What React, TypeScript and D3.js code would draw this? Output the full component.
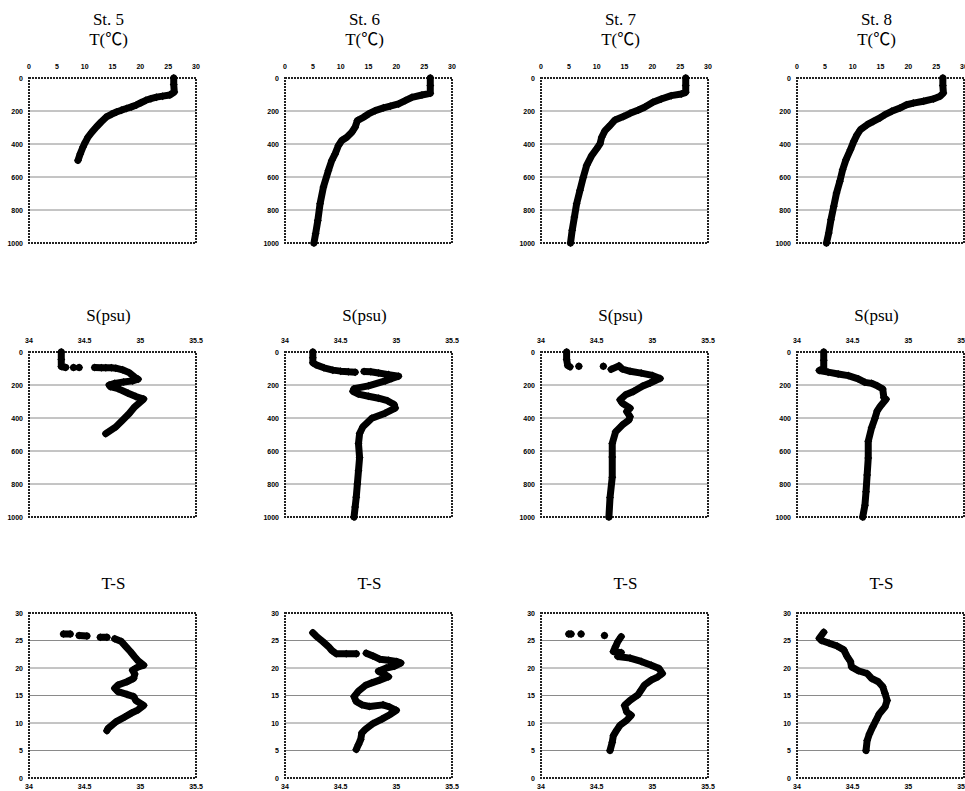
import React from 'react';
import * as d3 from 'd3';

type Pt = [number, number] | null;
const _ = null;

const stations = ['St. 5', 'St. 6', 'St. 7', 'St. 8'];
const tempTicks = [0, 5, 10, 15, 20, 25, 30];
const salTicks = [34, 34.5, 35, 35.5];
const depthTicks = [0, 200, 400, 600, 800, 1000];

// [temperature, depth]
const st5Temp: Pt[] = [[26.0,0],[26.0,40],[26.1,85],[25.3,103],[24.0,110],[22.9,116],[21.9,125],[21.0,135],[20.1,150],[19.3,163],[18.4,175],[17.5,185],[16.6,195],[15.7,206],[14.8,220],[13.9,236],[13.0,265],[12.1,297],[11.3,328],[10.6,358],[10.1,390],[9.7,418],[9.2,460],[8.8,499]];
const st6Temp: Pt[] = [[26.1,0],[26.1,45],[26.1,93],[24.6,103],[22.8,117],[21.6,137],[20.4,157],[18.9,171],[17.7,181],[16.2,198],[15.0,218],[14.1,238],[13.0,258],[12.6,298],[12.0,329],[11.1,359],[10.2,379],[9.6,409],[9.0,460],[8.4,500],[7.8,560],[6.9,661],[6.3,762],[5.9,863],[5.5,944],[5.2,1000]];
const st7Temp: Pt[] = [[26.0,0],[26.0,45],[26.0,87],[25.2,97],[23.4,107],[21.6,127],[20.1,147],[18.6,177],[17.5,194],[16.0,214],[14.8,234],[13.3,254],[12.4,288],[11.5,319],[10.9,359],[10.6,399],[10.0,429],[9.1,470],[8.2,530],[7.6,601],[7.0,681],[6.4,762],[6.0,843],[5.6,923],[5.3,1000]];
const st8Temp: Pt[] = [[26.2,0],[26.2,45],[26.3,91],[25.7,111],[24.5,127],[22.7,141],[20.9,152],[19.7,162],[18.5,182],[17.0,202],[15.8,222],[14.9,242],[13.7,263],[12.6,283],[11.4,313],[10.8,343],[10.2,384],[9.6,434],[8.8,495],[8.2,556],[7.7,626],[7.1,697],[6.6,778],[6.1,859],[5.7,939],[5.3,1000]];

// [salinity, depth]
const st5Sal: Pt[] = [[34.29,0],[34.29,45],[34.29,88],[34.33,94],_,[34.40,94],_,[34.45,94],_,[34.59,94],[34.65,95],[34.69,95],[34.74,96],[34.78,98],[34.84,108],[34.90,125],[34.95,153],[34.98,165],[34.93,175],[34.85,182],[34.77,190],[34.72,200],[34.73,210],[34.80,222],[34.89,250],[34.96,270],[35.03,285],[34.95,332],[34.90,373],[34.84,413],[34.78,454],[34.69,495]];
const st6Sal: Pt[] = [[34.25,0],[34.25,35],[34.25,65],[34.28,78],[34.35,96],[34.43,110],[34.50,116],[34.57,120],[34.63,122],_,[34.71,118],[34.77,120],[34.84,127],[34.93,137],[35.02,147],[34.96,160],[34.90,175],[34.75,205],[34.62,222],[34.61,238],[34.66,255],[34.75,268],[34.84,280],[34.92,295],[34.98,318],[34.99,340],[34.90,371],[34.78,402],[34.70,453],[34.67,494],[34.66,555],[34.67,640],[34.66,720],[34.65,800],[34.64,880],[34.63,940],[34.62,1000]];
const st7Sal: Pt[] = [[34.23,0],[34.23,45],[34.24,82],[34.26,90],_,[34.34,86],_,[34.56,86],_,[34.63,105],[34.70,84],[34.73,103],[34.80,117],[34.90,128],[35.0,142],[35.07,160],[34.98,188],[34.91,208],[34.83,239],[34.76,259],[34.71,290],[34.73,310],[34.80,341],[34.77,361],[34.80,392],[34.79,412],[34.73,443],[34.67,484],[34.64,555],[34.64,637],[34.64,759],[34.62,882],[34.61,1000]];
const st8Sal: Pt[] = [[34.24,0],[34.24,50],[34.24,100],[34.20,112],[34.28,122],[34.37,133],[34.46,143],[34.55,163],[34.61,184],[34.67,190],[34.72,204],[34.77,224],[34.78,276],[34.80,286],[34.75,327],[34.72,357],[34.70,402],[34.67,459],[34.64,541],[34.64,643],[34.63,745],[34.62,847],[34.61,929],[34.59,1000]];

// [salinity, temperature]
const st5TS: Pt[] = [[34.31,26.2],[34.37,26.2],_,[34.45,25.9],[34.52,25.8],_,[34.64,25.6],[34.70,25.6],_,[34.77,25.3],[34.83,24.8],[34.87,23.9],[34.91,23.0],[34.95,22.0],[34.98,21.3],[35.03,20.5],[34.97,20.1],[34.93,19.6],[34.95,18.9],[34.94,18.1],[34.88,17.5],[34.80,16.9],[34.77,16.3],[34.80,15.7],[34.88,15.2],[34.94,14.8],[34.96,14.1],[35.03,13.2],[34.98,12.4],[34.92,11.8],[34.86,11.1],[34.78,10.2],[34.71,9.0],[34.70,8.6]];
const st6TS: Pt[] = [[34.25,26.4],[34.28,25.8],[34.34,24.8],[34.39,23.9],[34.42,23.2],[34.46,22.6],[34.55,22.6],[34.64,22.6],_,[34.73,22.7],[34.79,22.2],[34.85,21.6],[34.93,21.4],[35.0,21.2],[35.04,20.9],[34.98,20.3],[34.91,20.0],[34.84,19.4],[34.90,18.8],[34.93,18.4],[34.85,17.8],[34.78,17.3],[34.72,16.8],[34.66,15.8],[34.62,14.8],[34.64,13.9],[34.69,13.3],[34.76,13.0],[34.88,13.3],[34.94,12.9],[35.0,12.3],[34.94,11.5],[34.87,10.7],[34.79,9.9],[34.72,8.8],[34.69,8.2],[34.68,7.0],[34.66,6.1],[34.64,5.2]];
const st7TS: Pt[] = [[34.25,26.2],[34.27,26.2],_,[34.36,26.2],_,[34.57,25.9],_,[34.72,25.7],[34.69,24.8],[34.67,23.9],[34.65,23.0],[34.72,22.8],[34.69,22.1],[34.80,21.8],[34.90,21.2],[34.99,20.5],[35.06,19.9],[35.09,19.0],[35.05,18.4],[34.99,17.8],[34.93,16.9],[34.90,16.0],[34.87,15.1],[34.80,14.1],[34.75,13.2],[34.77,12.0],[34.81,11.4],[34.77,10.5],[34.71,9.6],[34.68,8.7],[34.65,7.7],[34.64,6.5],[34.62,5.0]];
const st8TS: Pt[] = [[34.24,26.5],[34.20,25.4],[34.22,25.0],[34.29,24.5],[34.36,24.0],[34.42,23.3],[34.45,22.1],[34.48,21.2],[34.49,20.2],[34.55,19.5],[34.63,19.0],[34.67,18.1],[34.73,17.5],[34.77,16.6],[34.79,15.4],[34.81,14.1],[34.79,12.9],[34.74,11.7],[34.71,10.5],[34.68,9.3],[34.65,8.0],[34.63,6.8],[34.62,5.0]];

const tempSeries = [st5Temp, st6Temp, st7Temp, st8Temp];
const salSeries = [st5Sal, st6Sal, st7Sal, st8Sal];
const tsSeries = [st5TS, st6TS, st7TS, st8TS];

const colLeft = [29, 285, 541, 797];
const rowTop = [78, 352, 613];
const W = 167;
const H = 165;

const tickFont = '"Liberation Sans Narrow", "Arial Narrow", "Liberation Sans", Arial, sans-serif';
const titleFont = '"Liberation Serif", "Times New Roman", "Noto Sans CJK JP", serif';

const diamond = d3.symbol().type(d3.symbolSquare).size(32)() as string;

type PanelProps = {
  left: number;
  top: number;
  data: Pt[];
  xDomain: [number, number];
  yDomain: [number, number];
  xTicks: number[];
  yTicks: number[];
  xAxisTop: boolean;
};

function Panel({ left, top, data, xDomain, yDomain, xTicks, yTicks, xAxisTop }: PanelProps) {
  const x = d3.scaleLinear().domain(xDomain).range([0, W]);
  const y = d3.scaleLinear().domain(yDomain).range([0, H]);
  const line = d3
    .line<Pt>()
    .defined(d => d !== null)
    .x(d => x((d as [number, number])[0]))
    .y(d => y((d as [number, number])[1]));
  const pts = data.filter(d => d !== null) as [number, number][];

  return (
    <g transform={`translate(${left},${top})`}>
      {yTicks
        .filter(t => t !== yDomain[0] && t !== yDomain[1])
        .map(t => (
          <line key={'g' + t} x1={0} x2={W} y1={y(t)} y2={y(t)} stroke="#8a8a8a" strokeWidth={1} />
        ))}
      <rect x={0} y={0} width={W} height={H} fill="none" stroke="#222" strokeWidth={2} strokeDasharray="2 1" />
      {xTicks.map(t => (
        <text
          key={'x' + t}
          x={x(t)}
          y={xAxisTop ? -9 : H + 11}
          textAnchor="middle"
          fontSize={7}
          fontWeight="bold"
          fill="#000"
          fontFamily={tickFont}
        >
          {String(t)}
        </text>
      ))}
      {yTicks.map(t => (
        <text
          key={'y' + t}
          x={-6}
          y={y(t) + 2.5}
          textAnchor="end"
          fontSize={7}
          fontWeight="bold"
          fill="#000"
          fontFamily={tickFont}
        >
          {String(t)}
        </text>
      ))}
      <path
        d={line(data) || ''}
        fill="none"
        stroke="#000"
        strokeWidth={7}
        strokeLinejoin="round"
        strokeLinecap="round"
      />
      {pts.map((d, i) => (
        <path key={i} d={diamond} transform={`translate(${x(d[0])},${y(d[1])}) rotate(45)`} fill="#000" />
      ))}
    </g>
  );
}

export default function App() {
  return (
    <svg
      width={965}
      height={791}
      style={{ position: 'absolute', left: 0, top: 0, background: '#fff' }}
    >
      <rect width={965} height={791} fill="#fff" />
      {stations.map((name, i) => {
        const cx = colLeft[i] + W / 2 - 4;
        return (
          <g key={name}>
            <text x={cx} y={rowTop[0] - 53} textAnchor="middle" fontSize={17} fontFamily={titleFont}>
              {name}
            </text>
            <text x={cx} y={rowTop[0] - 33} textAnchor="middle" fontSize={17} fontFamily={titleFont}>
              T(℃)
            </text>
            <text x={cx} y={rowTop[1] - 31} textAnchor="middle" fontSize={17} fontFamily={titleFont}>
              S(psu)
            </text>
            <text x={cx + 5} y={rowTop[2] - 24} textAnchor="middle" fontSize={17} fontFamily={titleFont}>
              T-S
            </text>
            <Panel
              left={colLeft[i]}
              top={rowTop[0]}
              data={tempSeries[i]}
              xDomain={[0, 30]}
              yDomain={[0, 1000]}
              xTicks={tempTicks}
              yTicks={depthTicks}
              xAxisTop={true}
            />
            <Panel
              left={colLeft[i]}
              top={rowTop[1]}
              data={salSeries[i]}
              xDomain={[34, 35.5]}
              yDomain={[0, 1000]}
              xTicks={salTicks}
              yTicks={depthTicks}
              xAxisTop={true}
            />
            <Panel
              left={colLeft[i]}
              top={rowTop[2]}
              data={tsSeries[i]}
              xDomain={[34, 35.5]}
              yDomain={[30, 0]}
              xTicks={salTicks}
              yTicks={tempTicks}
              xAxisTop={false}
            />
          </g>
        );
      })}
    </svg>
  );
}
